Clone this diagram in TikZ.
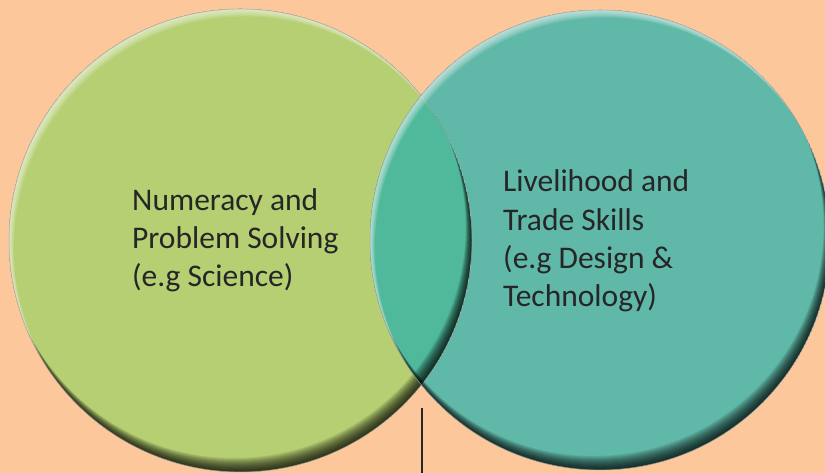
\documentclass[tikz,border=0pt]{standalone}
\usepackage{fontspec}
\setmainfont{Carlito}
\usepackage{xcolor}

\definecolor{peach}{RGB}{252,199,155}
\definecolor{leafgreen}{RGB}{182,207,114}
\definecolor{seateal}{RGB}{96,184,168}
\definecolor{lensteal}{RGB}{80,185,155}
\definecolor{inkgray}{RGB}{38,38,38}

\tikzset{bubbletext/.style={anchor=base west, align=left, inner sep=0pt, text=inkgray, font=\fontsize{31.5}{38.4}\selectfont}}

\begin{document}
\begin{tikzpicture}[x=1pt,y=1pt]

\useasboundingbox (0,0) rectangle (825,473);
\clip (0,0) rectangle (825,473);
\fill [peach] (0,0) rectangle (825,473);

\coordinate (lc) at (240.5,232.5);
\coordinate (rc) at (600,233);

\fill [leafgreen] (lc) circle (231.5);
\fill [seateal] (rc) circle (230);

% overlap
\begin{scope}
\clip (lc) circle (231.5);
\fill [lensteal] (rc) circle (230);
\end{scope}

% bevel: dark bottom right, light top left
\foreach \ctr/\rad in {lc/231.5, rc/230} {
  \begin{scope}
    \clip (\ctr) circle (\rad);
    \foreach \d in {1,...,14}
      \fill [black, fill opacity=0.085, even odd rule] (\ctr) circle (\rad) ([shift={(-0.45*\d,\d)}]\ctr) circle (\rad);
    \foreach \d in {1,...,9}
      \fill [white, fill opacity=0.09, even odd rule] (\ctr) circle (\rad) ([shift={(0.55*\d,-0.85*\d)}]\ctr) circle (\rad);
  \end{scope}
  \draw [gray!60, line width=0.8pt, opacity=0.5] (\ctr) circle (\rad);
}

\node [bubbletext] (numeracy) at (132,186) {Numeracy and\\Problem Solving\\(e.g Science)};
\node [bubbletext] (livelihood) at (503,166) {Livelihood and\\Trade Skills\\(e.g Design \&\\Technology)};

\coordinate (stemtop) at (421.5,65);
\coordinate (stembot) at (421.5,0);
\draw [inkgray, line width=2pt] (stemtop) -- (stembot);

\end{tikzpicture}
\end{document}
